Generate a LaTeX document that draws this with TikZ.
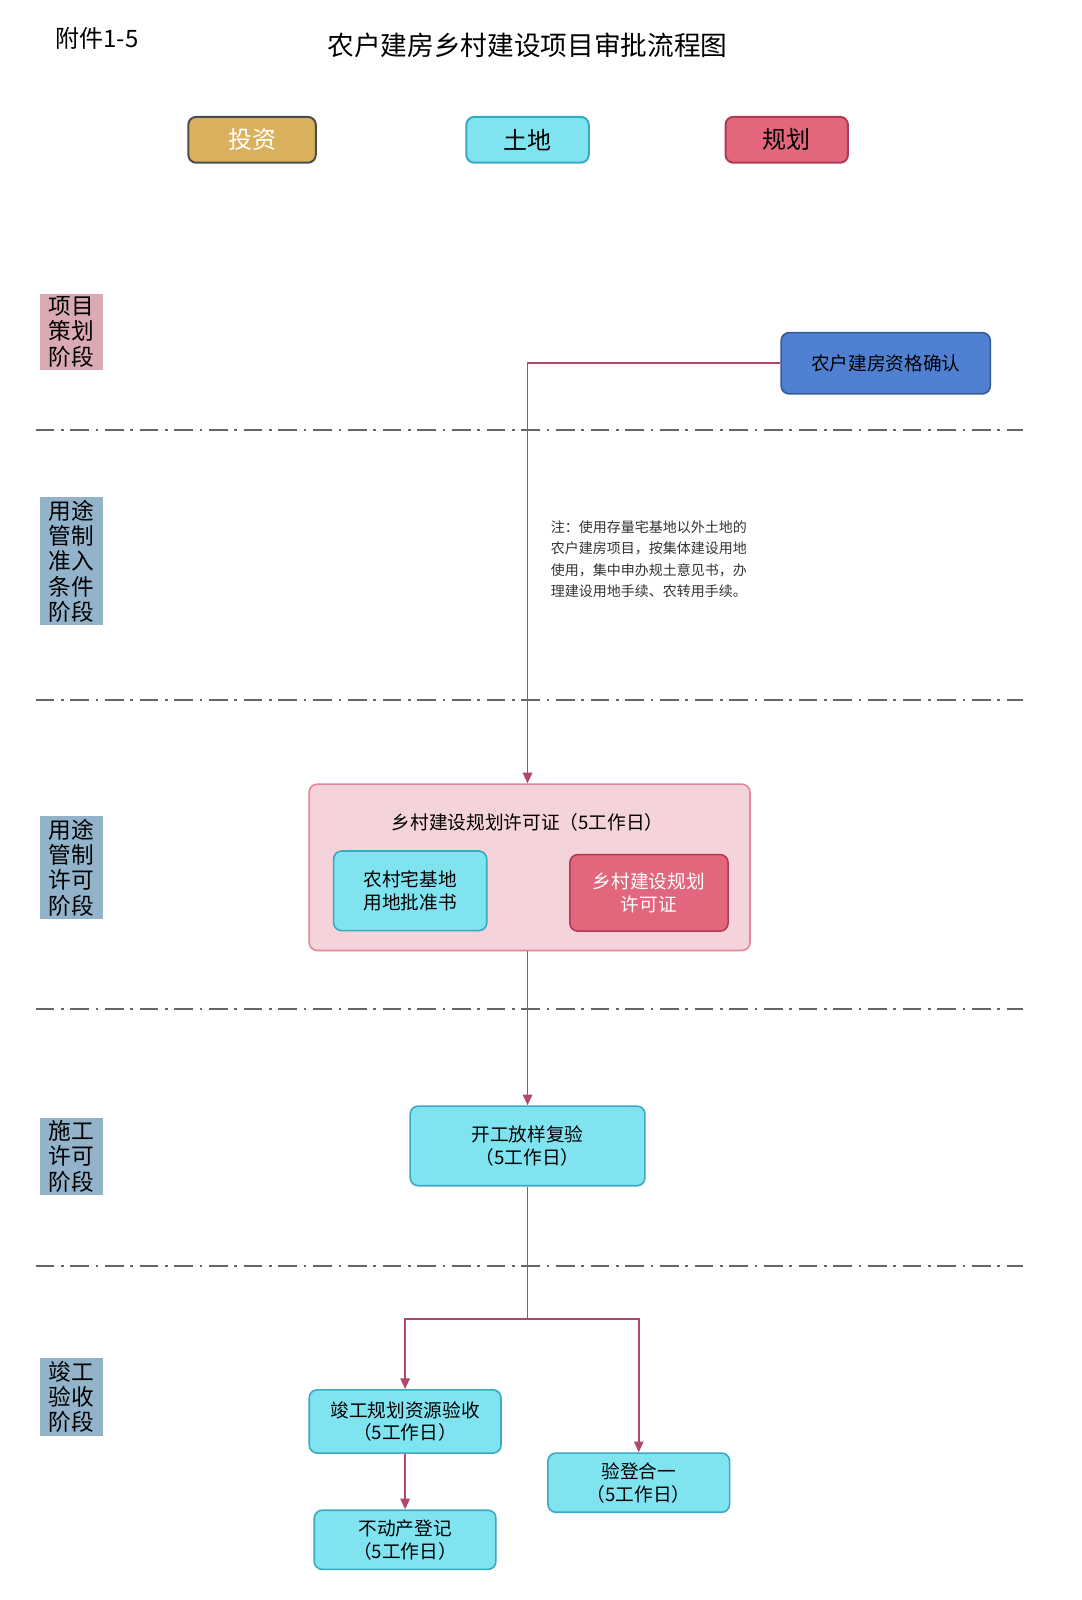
\documentclass[tikz,border=0pt]{standalone}
\usepackage{fontspec}
\setmainfont{Noto Sans CJK SC}
\usetikzlibrary{arrows.meta}
\definecolor{gold}{HTML}{D9B15C}
\definecolor{landc}{HTML}{7FE3F0}
\definecolor{landd}{HTML}{3AA9C2}
\definecolor{planc}{HTML}{E2677C}
\definecolor{pland}{HTML}{B03A55}
\definecolor{qualc}{HTML}{4F80D2}
\definecolor{stagea}{HTML}{D9AAB3}
\definecolor{stageb}{HTML}{93B3CB}
\definecolor{linec}{HTML}{B04868}
\definecolor{bigc}{HTML}{F4D3DA}
\tikzset{every picture/.style={line width=0.75pt}}
\tikzset{
  legendbox/.style={rounded corners=6pt,line width=1.5pt,minimum height=34.4pt,font=\fontsize{18}{20}\selectfont},
  landbox/.style={draw=landd,fill=landc,rounded corners=6pt,line width=1.2pt,align=center,font=\fontsize{14}{17}\selectfont},
  stagebox/.style={fill=stageb,minimum width=47.4pt,align=center,inner sep=2pt,font=\fontsize{17}{19}\selectfont},
  sepline/.style={gray!80!black,line width=1.4pt,dash pattern=on 14pt off 5pt on 2pt off 5pt},
  flow/.style={linec,line width=1.4pt},
  flowarr/.style={flow,-{Triangle[length=8pt,width=7pt]}}
}
\begin{document}
\begin{tikzpicture}[x=0.765pt,y=0.765pt,yscale=-1,xscale=1]
\useasboundingbox (0,0) rectangle (1060,1568);

% Text Node
\draw (95,38) node (annex) [font=\fontsize{18}{20}\selectfont] {附件1-5};
\draw (517,44) node (title) [font=\fontsize{20}{22}\selectfont] {农户建房乡村建设项目审批流程图};

% legend
\node (invest) [legendbox,draw=black!70,fill=gold,text=white,minimum width=95.6pt] at (247,137) {投资};
\node (land) [legendbox,draw=landd,fill=landc,minimum width=91.8pt] at (517,137) {土地};
\node (plan) [legendbox,draw=pland,fill=planc,minimum width=91.8pt] at (771,137) {规划};

% stages
\node (s1) [stagebox,fill=stagea] at (70,325) {项目\\策划\\阶段};
\node (s2) [stagebox] at (70,550) {用途\\管制\\准入\\条件\\阶段};
\node (s3) [stagebox] at (70,850) {用途\\管制\\许可\\阶段};
\node (s4) [stagebox] at (70,1133) {施工\\许可\\阶段};
\node (s5) [stagebox] at (70,1369) {竣工\\验收\\阶段};

% separators
\foreach \y in {421,686,989,1241}
  \draw [sepline] (35,\y) -- (1003,\y);

% boxes
\node (qual) [draw=qualc!70!black,fill=qualc,rounded corners=6pt,line width=1.2pt,minimum width=156.8pt,minimum height=45.9pt,font=\fontsize{14}{17}\selectfont] at (868,356) {农户建房资格确认};
\node (big) [draw=planc!80,fill=bigc,rounded corners=6pt,line width=1.2pt,minimum width=330.5pt,minimum height=124.7pt] at (519,850) {};
\node (bigt) [font=\fontsize{14}{17}\selectfont] at (517,806) {乡村建设规划许可证（5工作日）};
\node (homestead) [landbox,minimum width=114.8pt,minimum height=59.7pt] at (402,873) {农村宅基地\\用地批准书};
\node (permit) [draw=pland,fill=planc,rounded corners=6pt,line width=1.2pt,align=center,text=white,font=\fontsize{14}{17}\selectfont,minimum width=118.6pt,minimum height=57.4pt] at (636,875) {乡村建设规划\\许可证};
\node (note) [anchor=west,align=left,font=\fontsize{10.5}{16}\selectfont,text=black!80] at (535,548) {注：使用存量宅基地以外土地的\\农户建房项目，按集体建设用地\\使用，集中申办规土意见书，办\\理建设用地手续、农转用手续。};
\node (start) [landbox,minimum width=176pt,minimum height=59.7pt] at (517,1123) {开工放样复验\\（5工作日）};
\node (accept) [landbox,minimum width=143.8pt,minimum height=47.4pt] at (397,1393) {竣工规划资源验收\\（5工作日）};
\node (estate) [landbox,minimum width=136.2pt,minimum height=44.4pt] at (397,1509) {不动产登记\\（5工作日）};
\node (merge) [landbox,minimum width=136.2pt,minimum height=44.4pt] at (626,1453) {验登合一\\（5工作日）};

% connectors
\coordinate (turn) at (517,356);
\coordinate (split) at (517,1293);
\draw [flowarr] (qual.west) -- (turn) -- (big.north -| turn);
\draw [flowarr] (big.south -| start) -- (start.north);
\draw [flow] (start.south) -- (split);
\draw [flowarr] (split) -| (accept.north);
\draw [flowarr] (split) -| (merge.north);
\draw [flowarr] (accept.south) -- (estate.north);
\end{tikzpicture}
\end{document}
